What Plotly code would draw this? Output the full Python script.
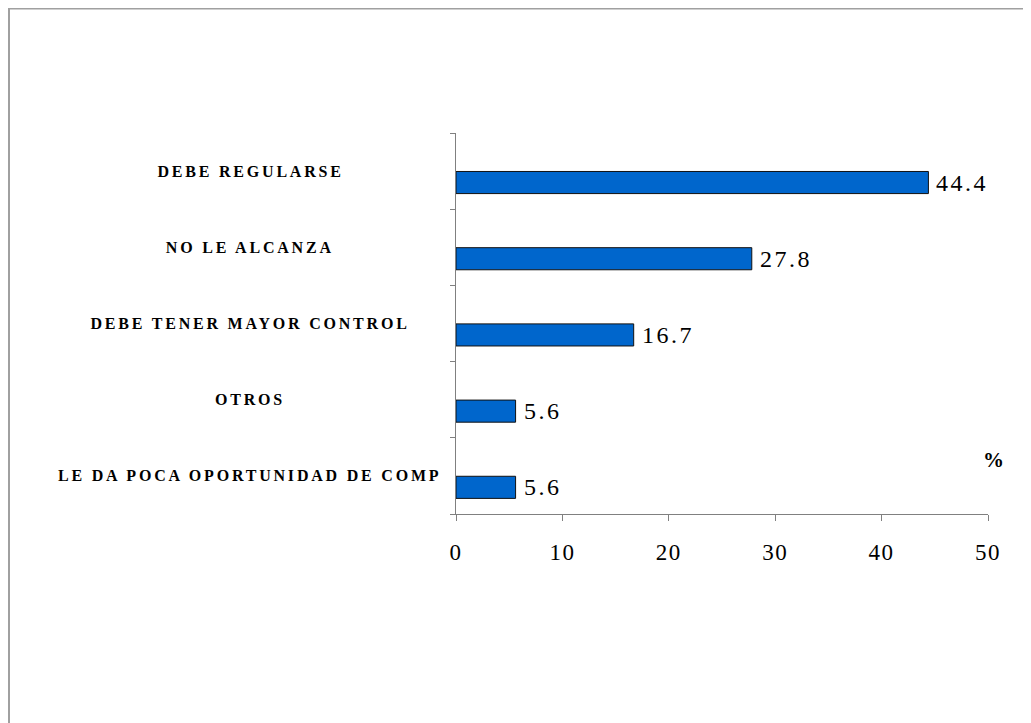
import plotly.graph_objects as go

# categories top to bottom, as in the reference
categorias = ["DEBE REGULARSE", "NO LE ALCANZA", "DEBE TENER MAYOR CONTROL",
              "OTROS", "LE DA POCA OPORTUNIDAD DE COMP"]
porcentajes = [44.4, 27.8, 16.7, 5.6, 5.6]
x_ticks = [0, 10, 20, 30, 40, 50]

# the page puts the figure 8px in from the top-left corner
W, H = 1023, 715
L, R, T, B = 448, 980, 125, 506   # plot area in figure pixels

n = len(categorias)
# each category owns a band of height 1; bar sits in the lower part of it
banda = [n - 1 - i for i in range(n)]
y_bar = [b + 0.35 for b in banda]
y_lbl = [b + 0.5 for b in banda]

serif = "Liberation Serif, Times New Roman, serif"

fig = go.Figure()
fig.add_trace(go.Bar(
    x=porcentajes, y=y_bar, orientation="h", width=0.29,
    marker=dict(color="#0066CC", line=dict(color="#111111", width=1)),
    hoverinfo="skip",
))

# value labels next to the bar ends
for v, y in zip(porcentajes, y_bar):
    fig.add_annotation(x=v, y=y, xref="x", yref="y", text=f"{v:.1f}",
                       showarrow=False, xanchor="left", yanchor="middle", align="left",
                       xshift=6, font=dict(family=serif, size=24, color="black"))

for cat, y in zip(categorias, y_lbl):
    fig.add_annotation(x=(242 - L) / (R - L), xref="paper", y=y, yref="y",
                       text=cat, showarrow=False, xanchor="center", yanchor="middle",
                       font=dict(family=serif, size=16, color="black", weight="bold"))

fig.add_annotation(x=(985 - L) / (R - L), xref="paper", y=(B - 452) / (B - T), yref="paper",
                   text="%", showarrow=False, xanchor="center", yanchor="middle",
                   font=dict(family=serif, size=21, color="black", weight="bold"))

# outer frame (only top and left edges visible in the picture)
fig.add_shape(type="rect", xref="paper", yref="paper",
              x0=(1 - L) / (R - L), x1=(W + 20 - L) / (R - L),
              y0=(B - H - 20) / (B - T), y1=(B - 0.5) / (B - T),
              line=dict(color="#A0A0A0", width=2), fillcolor="rgba(0,0,0,0)")

fig.update_xaxes(range=[0, 50], tickvals=x_ticks, ticks="outside", ticklen=6,
                 tickcolor="#808080", showline=True, linecolor="#808080", linewidth=1,
                 showgrid=False, zeroline=False, ticklabelstandoff=11,
                 tickfont=dict(family=serif, size=23, color="black"))
fig.update_yaxes(range=[0, n], tickvals=list(range(n + 1)), showticklabels=False,
                 ticks="outside", ticklen=5, tickcolor="#808080", showline=True,
                 linecolor="#808080", linewidth=1, showgrid=False, zeroline=False)

fig.update_layout(width=W, height=H, margin=dict(l=L, r=W - R, t=T, b=H - B),
                  paper_bgcolor="white", plot_bgcolor="white", showlegend=False)

post = """
document.querySelectorAll('.annotation-text').forEach(function(t){
  var s = t.textContent;
  if (s === '%') return;
  t.style.letterSpacing = /^[0-9.]+$/.test(s) ? '2.5px' : '2.8px';
});
document.querySelectorAll('.xtick text').forEach(function(t){
  t.style.letterSpacing = '1.5px';
});
"""
fig.write_html("out.html", post_script=post)
